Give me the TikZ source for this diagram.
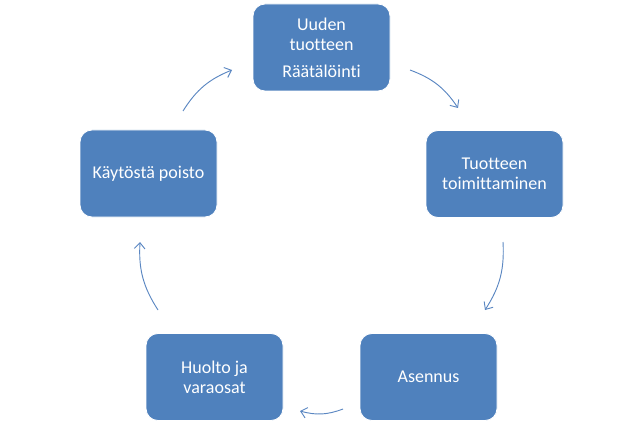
\documentclass[tikz,border=0pt]{standalone}
\usepackage{fontspec}
\setmainfont{Carlito}[Ligatures=NoCommon]
\usetikzlibrary{arrows.meta}
\definecolor{boxblue}{HTML}{4F81BD}
\definecolor{arrowblue}{HTML}{5B87C2}
\begin{document}
\begin{tikzpicture}[x=0.75pt, y=0.75pt,
    every node/.style={rectangle, rounded corners=9pt, fill=boxblue, draw=white, line width=0.6pt,
      minimum width=102.75pt, minimum height=65.25pt, text=white, align=center,
      font=\fontsize{13.5}{15}\selectfont},
    cycarrow/.style={draw=arrowblue, line width=0.7pt, -{Straight Barb[length=4.5pt,width=8pt]}}]
      \useasboundingbox (0,0) rectangle (642,429);
      \node (raat) at (321.5,381.5) {Uuden\\tuotteen\\[5pt]Räätälöinti};
      \node (toim) at (494.5,255) {Tuotteen\\toimittaminen};
      \node (asen) at (428.5,52) {Asennus};
      \node (huol) at (214.5,52) {Huolto ja\\varaosat};
      \node (kayt) at (148.5,255.5) {Käytöstä poisto};
      % free ends of the cycle arrows
      \coordinate (a1) at (410,359);  \coordinate (b1) at (458,321);
      \coordinate (a2) at (503,187);  \coordinate (b2) at (485,119);
      \coordinate (a3) at (343,20);   \coordinate (b3) at (300,18);
      \coordinate (a4) at (158,119);  \coordinate (b4) at (140,187);
      \coordinate (a5) at (183,318);  \coordinate (b5) at (232,359);
      \foreach \source/\dest in {a1/b1, a2/b2, a3/b3, a4/b4, a5/b5}
        \path (\source) edge[cycarrow, bend left=18] (\dest);
    \end{tikzpicture}
\end{document}
